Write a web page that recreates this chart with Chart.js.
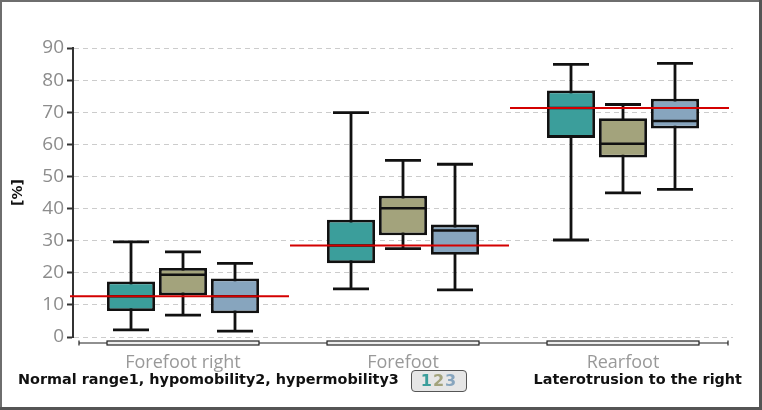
<!DOCTYPE html>
<html>
<head>
<meta charset="utf-8">
<script src="https://cdn.jsdelivr.net/npm/chart.js@4"></script>
<style>
  body { margin: 0; background: #fff; }
  #wrap { position: relative; width: 762px; height: 410px; }
  #note, #side { position: absolute; top: 371px; font: bold 14.4px "DejaVu Sans", sans-serif; color: #111; white-space: nowrap; }
  #note { left: 18px; }
  #side { right: 20px; }
  #badge { position: absolute; left: 411px; top: 370px; width: 54px; height: 20px; border: 1.5px solid #555; border-radius: 4px;
           background: #e6e6e6; font: bold 16px "DejaVu Sans", sans-serif; text-align: center; line-height: 20px; letter-spacing: 1px; }
</style>
</head>
<body>
<div id="wrap">
  <canvas id="chart" width="762" height="410"></canvas>
  <div id="note">Normal range1, hypomobility2, hypermobility3</div>
  <div id="badge"><span style="color:#3b9e9b">1</span><span style="color:#a3a37c">2</span><span style="color:#87a5be">3</span></div>
  <div id="side">Laterotrusion to the right</div>
</div>
<script>
const categories = ['Forefoot right', 'Forefoot', 'Rearfoot'];
const groups = ['Normal range', 'hypomobility', 'hypermobility'];
const colors = ['#3b9e9b', '#a3a37c', '#87a5be'];

// per group: [min, q1, median, q3, max] for each category
const normalRange   = [[2.2, 8.1, 12.7, 17.3, 29.6], [15.0, 23.0, 28.5, 36.5, 69.9], [30.2, 62.0, 71.3, 76.8, 84.9]];
const hypomobility  = [[6.8, 13.0, 19.4, 21.5, 26.5], [27.5, 31.7, 40.1, 44.0, 55.0], [44.9, 55.9, 60.2, 68.1, 72.4]];
const hypermobility = [[1.8, 7.4, 12.7, 18.2, 22.9], [14.7, 25.6, 33.2, 35.0, 53.8], [46.0, 64.9, 67.3, 74.2, 85.2]];
const referenceLine = [12.7, 28.5, 71.3];
const yTicks = [0, 10, 20, 30, 40, 50, 60, 70, 80, 90];

const stats = [normalRange, hypomobility, hypermobility];

const boxPlugin = {
  id: 'boxes',
  beforeDraw(chart) {
    const ctx = chart.ctx;
    ctx.save();
    ctx.fillStyle = '#fff';
    ctx.fillRect(0, 0, chart.width, chart.height);
    ctx.strokeStyle = '#6e6e6e';
    ctx.lineWidth = 2;
    ctx.strokeRect(1, 1, chart.width - 3, chart.height - 3);
    ctx.fillStyle = '#555';
    ctx.fillRect(chart.width - 3, 0, 3, chart.height);
    ctx.fillRect(0, chart.height - 3, chart.width, 3);
    ctx.restore();
  },
  beforeDatasetsDraw(chart) {
    const ctx = chart.ctx, y = chart.scales.y;
    ctx.save();
    ctx.strokeStyle = '#111';
    ctx.lineWidth = 2.8;
    stats.forEach((g, i) => {
      chart.getDatasetMeta(i).data.forEach((bar, j) => {
        const s = g[j];
        const yMin = y.getPixelForValue(s[0]), yMax = y.getPixelForValue(s[4]);
        ctx.beginPath();
        ctx.moveTo(bar.x, yMin); ctx.lineTo(bar.x, yMax);
        ctx.moveTo(bar.x - 18, yMin); ctx.lineTo(bar.x + 18, yMin);
        ctx.moveTo(bar.x - 18, yMax); ctx.lineTo(bar.x + 18, yMax);
        ctx.stroke();
      });
    });
    // x axis bracket
    const base = chart.chartArea.bottom + 6;
    ctx.lineWidth = 1.2;
    ctx.strokeStyle = '#222';
    ctx.beginPath();
    ctx.moveTo(chart.chartArea.left + 6, base); ctx.lineTo(chart.chartArea.right - 5, base);
    ctx.moveTo(chart.chartArea.left + 6, base - 2.5); ctx.lineTo(chart.chartArea.left + 6, base + 2.5);
    ctx.moveTo(chart.chartArea.right - 5, base - 2.5); ctx.lineTo(chart.chartArea.right - 5, base + 2.5);
    ctx.stroke();
    categories.forEach((c, j) => {
      const a = chart.getDatasetMeta(0).data[j], b = chart.getDatasetMeta(2).data[j];
      const l = a.x - a.width / 2, r = b.x + b.width / 2;
      ctx.fillStyle = '#eee';
      ctx.fillRect(l, base - 2, r - l, 4);
      ctx.strokeRect(l, base - 2, r - l, 4);
    });
    ctx.restore();
  },
  afterDatasetsDraw(chart) {
    const ctx = chart.ctx, y = chart.scales.y, x = chart.scales.x;
    ctx.save();
    ctx.strokeStyle = '#111';
    ctx.lineWidth = 2.5;
    stats.forEach((g, i) => {
      chart.getDatasetMeta(i).data.forEach((bar, j) => {
        const ym = y.getPixelForValue(g[j][2]);
        ctx.beginPath();
        ctx.moveTo(bar.x - bar.width / 2, ym); ctx.lineTo(bar.x + bar.width / 2, ym);
        ctx.stroke();
      });
    });
    ctx.strokeStyle = '#d40000';
    ctx.lineWidth = 2;
    referenceLine.forEach((v, j) => {
      const cx = x.getPixelForValue(j), yy = y.getPixelForValue(v);
      ctx.beginPath();
      ctx.moveTo(cx - 113, yy); ctx.lineTo(cx + 106, yy);
      ctx.stroke();
    });
    ctx.restore();
  }
};

new Chart(document.getElementById('chart'), {
  type: 'bar',
  data: {
    labels: categories,
    datasets: stats.map((g, i) => ({
      label: groups[i],
      data: g.map(s => [s[1], s[3]]),
      backgroundColor: colors[i],
      borderColor: '#111',
      borderWidth: 2.8,
      borderSkipped: false,
      categoryPercentage: 0.709,
      barPercentage: 0.923
    }))
  },
  options: {
    responsive: false,
    animation: false,
    layout: { padding: { left: 0, right: 29, top: 48, bottom: 0 } },
    plugins: { legend: { display: false }, tooltip: { enabled: false } },
    scales: {
      x: {
        afterFit(s) { s.height = 73; },
        grid: { display: false, drawTicks: false },
        border: { display: false },
        ticks: { color: '#999', padding: 15, font: { family: 'Open Sans', size: 18 } }
      },
      y: {
        min: 0, max: 90,
        afterFit(s) { s.width = 73; },
        afterBuildTicks(s) { s.ticks = yTicks.map(v => ({ value: v })); },
        title: { display: true, text: '[%]', color: '#111', padding: 10, font: { family: 'DejaVu Sans', size: 14, weight: 'bold' } },
        border: { display: true, color: '#333', width: 2, dash: [5, 4] },
        grid: { color: '#cccccc', lineWidth: 1, tickLength: 6, tickColor: '#333', tickWidth: 2, tickBorderDash: [] },
        ticks: { color: '#8c8c8c', padding: 3, font: { family: 'Open Sans', size: 19 } }
      }
    }
  },
  plugins: [boxPlugin]
});
</script>
</body>
</html>
